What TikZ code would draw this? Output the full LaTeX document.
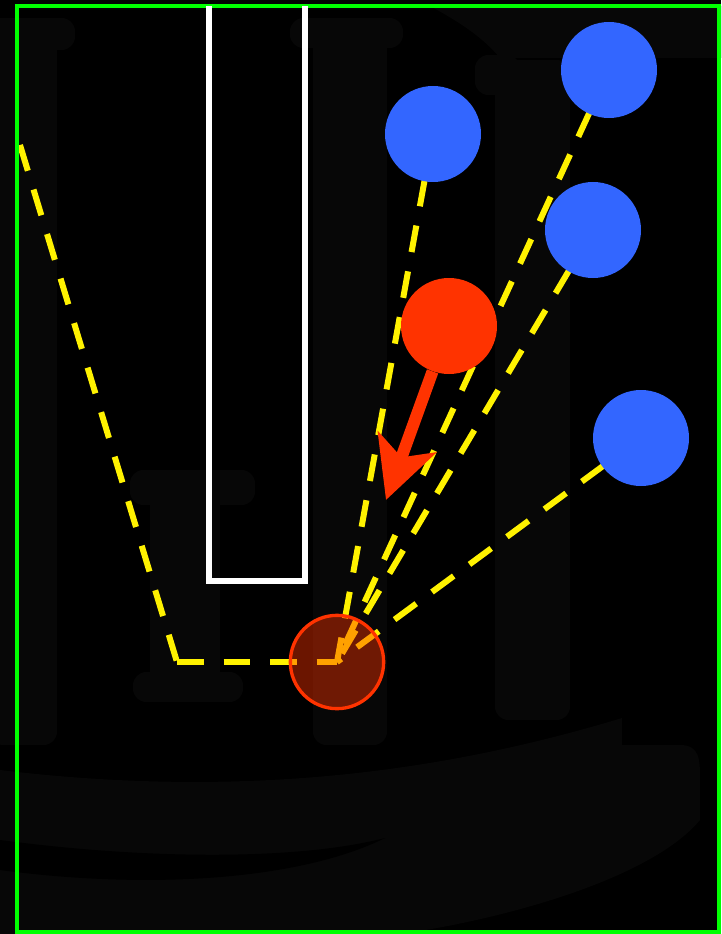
\documentclass[tikz,border=0pt]{standalone}
\usetikzlibrary{arrows.meta}
\definecolor{ballblue}{HTML}{3366FF}
\definecolor{ballred}{HTML}{FF3300}
\definecolor{faint}{RGB}{7,7,7}
\pgfdeclarelayer{background}
\pgfdeclarelayer{links}
\pgfsetlayers{background,links,main}
\tikzset{
 ball/.style={circle,inner sep=0pt,minimum size=72pt},
 ray/.style={yellow,line width=4.5pt,dash pattern=on 20.2pt off 14.7pt},
 ghost/.style={fill=faint,rounded corners=10pt},
}
\begin{document}
\begin{tikzpicture}[x=0.75pt,y=-0.75pt]
 \useasboundingbox (0,0) rectangle (721,934);
 \begin{pgfonlayer}{background}
 \fill[black] (0,0) rectangle (721,934);
 \fill[faint] (430,6) .. controls (465,25) and (485,40) .. (500,58) -- (721,58) -- (721,6) -- cycle;
 \fill[ghost] (-20,18) rectangle (75,50);
 \fill[ghost] (-10,30) rectangle (57,745);
 \fill[ghost] (290,18) rectangle (403,48);
 \fill[ghost] (313,30) rectangle (387,745);
 \fill[ghost] (475,55) rectangle (520,95);
 \fill[ghost] (495,60) rectangle (570,720);
 \fill[ghost] (130,470) rectangle (255,505);
 \fill[ghost] (150,490) rectangle (220,690);
 \fill[ghost] (133,672) rectangle (243,702);
 \fill[faint] (0,770) .. controls (250,800) and (450,770) .. (622,718) -- (622,745) -- (680,745)
  .. controls (700,745) and (700,760) .. (700,780) -- (700,820)
  .. controls (650,880) and (500,920) .. (400,934) -- (0,934) -- cycle;
 \fill[black] (0,840) .. controls (150,860) and (300,860) .. (385,838)
  .. controls (300,880) and (150,890) .. (0,870) -- cycle;
 \end{pgfonlayer}

 \draw[green,line width=3.5pt] (17,6) rectangle (719,932);
 \draw[white,line width=4.5pt] (209,6) -- (209,581) -- (305,581) -- (305,6);

 \node[ball,fill=ballblue] (b1) at (433,134) {};
 \node[ball,fill=ballblue] (b2) at (609,70) {};
 \node[ball,fill=ballblue] (b3) at (593,230) {};
 \node[ball,fill=ballblue] (b4) at (641,438) {};
 \node[ball,fill=ballred] (hot) at (449,326) {};
 \node[ball,minimum size=70pt,fill=ballred,fill opacity=0.42,draw=ballred,line width=2.5pt] (src) at (337,662) {};
 \coordinate (elbow) at (177,662);
 \coordinate (farend) at (20,145);
 \coordinate (tip) at (386,500);

 \begin{pgfonlayer}{links}
 \draw[ray] (farend) -- (elbow);
 \draw[ray] (elbow) -- (src.center);
 \draw[ray] (b1.center) -- (src.center);
 \draw[ray] (b2.center) -- (src.center);
 \draw[ray] (b3.center) -- (src.center);
 \draw[ray] (b4.center) -- (src.center);
 \end{pgfonlayer}

 \draw[ballred,line width=9pt,-{Stealth[length=46pt,width=46pt,inset=12pt]}] (hot) -- (tip);
\end{tikzpicture}
\end{document}
